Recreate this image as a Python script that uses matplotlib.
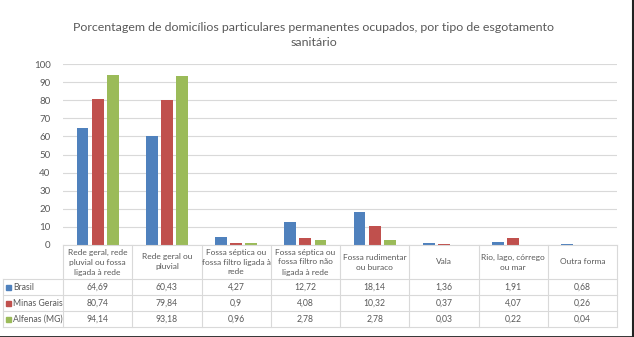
import matplotlib.pyplot as plt
from matplotlib.lines import Line2D
from matplotlib.patches import Rectangle
import matplotlib.transforms as mtransforms
import numpy as np

#   Data
TITLE = "Porcentagem de domicílios particulares permanentes ocupados, por tipo de esgotamento\nsanitário"
categories = ["Rede geral, rede\npluvial ou fossa\nligada à rede",
              "Rede geral ou\npluvial",
              "Fossa séptica ou\nfossa filtro ligada à\nrede",
              "Fossa séptica ou\nfossa filtro não\nligada à rede",
              "Fossa rudimentar\nou buraco",
              "Vala",
              "Rio, lago, córrego\nou mar",
              "Outra forma"]
series_names = ["Brasil", "Minas Gerais", "Alfenas (MG)"]
brasil = [64.69, 60.43, 4.27, 12.72, 18.14, 1.36, 1.91, 0.68]
minas = [80.74, 79.84, 0.9, 4.08, 10.32, 0.37, 4.07, 0.26]
alfenas = [94.14, 93.18, 0.96, 2.78, 2.78, 0.03, 0.22, 0.04]
yticks = [0, 10, 20, 30, 40, 50, 60, 70, 80, 90, 100]

#   Settings
COLS = ["#4F81BD", "#C0504D", "#9BBB59"]
TEXT_COL = "#595959"
GRID_COL = "#D9D9D9"
plt.rcParams['font.family'] = ['Lato', 'DejaVu Sans']

W, H = 634, 337
fig = plt.figure(figsize=(W / 100, H / 100), dpi=100)
ax = fig.add_axes([63 / W, (H - 245) / H, (617 - 63) / W, (245 - 64) / H])

x = np.arange(len(categories))
width = 0.17
step = 0.22
for i, vals in enumerate([brasil, minas, alfenas]):
    ax.bar(x + (i - 1) * step, vals, width, color=COLS[i], zorder=3)

ax.set_xlim(-0.5, len(categories) - 0.5)
ax.set_ylim(0, 100)
ax.set_yticks(yticks)
ax.set_xticks([])
ax.tick_params(axis='y', length=0, labelsize=7, labelcolor=TEXT_COL, pad=9)
ax.grid(axis='y', color=GRID_COL, linewidth=0.8, zorder=0)
for s in ax.spines.values():
    s.set_visible(False)

fig.text(0.495, 1 - 35 / H, TITLE, ha='center', va='center', fontsize=8.9,
         color=TEXT_COL, linespacing=1.55)

#   Table below the axes, drawn in pixel units from the top
def fy(py):
    return 1 - py / H

trans = mtransforms.blended_transform_factory(ax.transData, fig.transFigure)
row_lines = [245, 279, 295, 311, 327]
left_px = 3
tbl_kw = dict(color=GRID_COL, linewidth=0.8, clip_on=False)

# horizontal lines
for k, py in enumerate(row_lines):
    x0 = 63 / W if k == 0 else left_px / W
    fig.add_artist(Line2D([x0, 617 / W], [fy(py), fy(py)], **tbl_kw))
# vertical lines
for b in np.arange(-0.5, len(categories)):
    fig.add_artist(Line2D([b, b], [fy(245), fy(327)], transform=trans, **tbl_kw))
fig.add_artist(Line2D([left_px / W, left_px / W], [fy(279), fy(327)], **tbl_kw))

# header text
for i, c in enumerate(categories):
    fig.text(i, fy(262), c, transform=trans, ha='center', va='center',
             fontsize=6.0, color=TEXT_COL, linespacing=1.5)

# rows
for r, (name, vals) in enumerate(zip(series_names, [brasil, minas, alfenas])):
    yc = fy((row_lines[r + 1] + row_lines[r + 2]) / 2)
    fig.add_artist(Rectangle((6 / W, yc - 2.5 / H), 5 / W, 5 / H,
                             color=COLS[r], transform=fig.transFigure))
    fig.text(13 / W, yc, name, ha='left', va='center', fontsize=6.2, color=TEXT_COL)
    for i, v in enumerate(vals):
        fig.text(i, yc, str(v).replace('.', ','), transform=trans,
                 ha='center', va='center', fontsize=6.2, color=TEXT_COL)

# screenshot frame at bottom and right
fig.add_artist(Line2D([0, 1], [0.5 / H, 0.5 / H], color="#222222", linewidth=2))
fig.add_artist(Line2D([1 - 1.5 / W, 1 - 1.5 / W], [0, 1], color="#222222", linewidth=1.5))

plt.savefig("out.png", dpi=100)
plt.close()
